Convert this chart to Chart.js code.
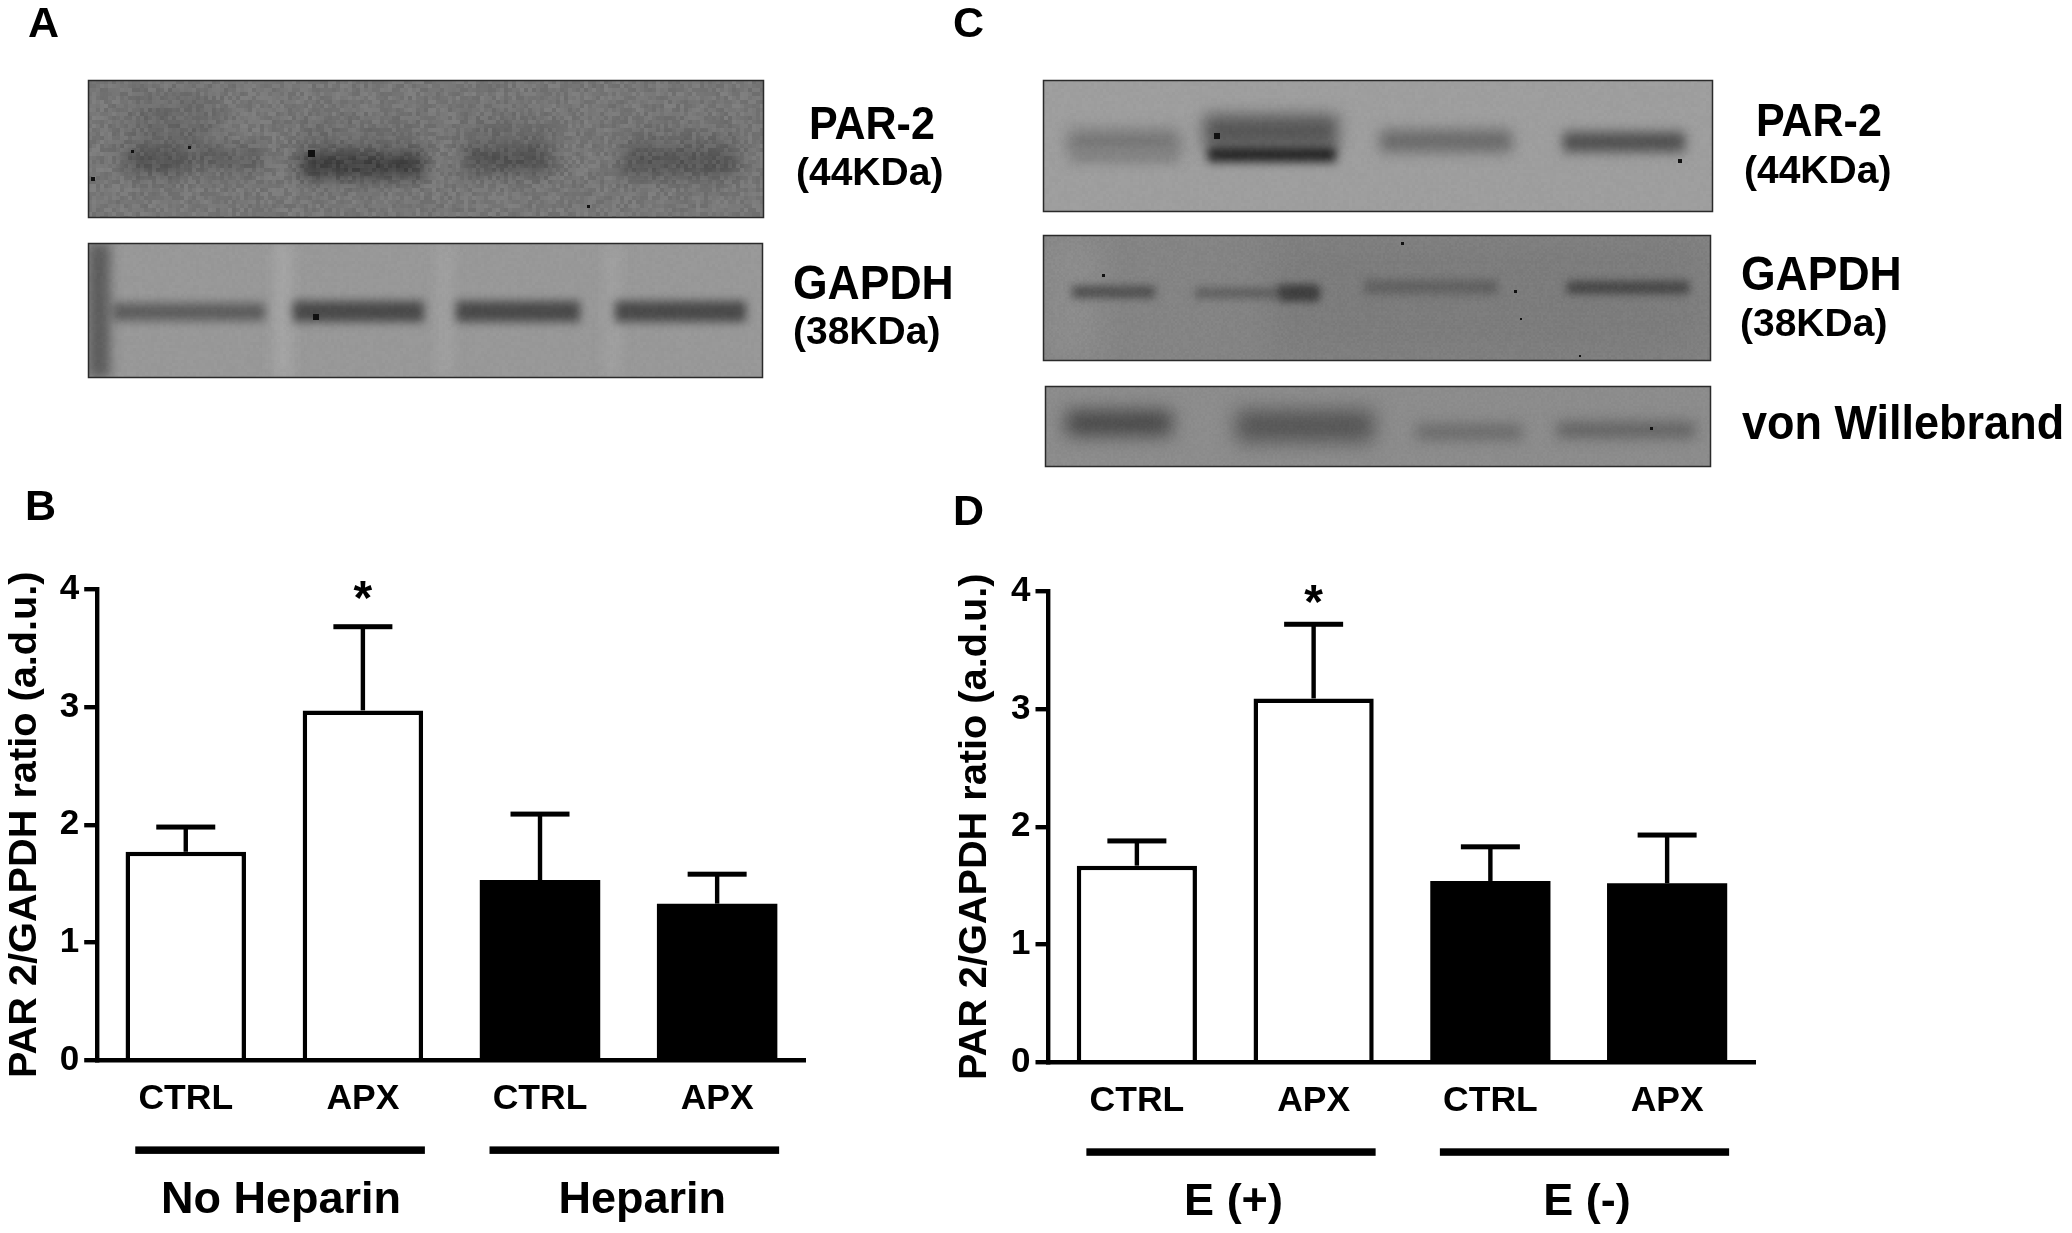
<!DOCTYPE html>
<html>
<head>
<meta charset="utf-8">
<title>PAR-2 western blots</title>
<script src="https://cdn.jsdelivr.net/npm/chart.js@4"></script>
<style>
  html, body { margin: 0; padding: 0; background: #fff; }
  #page { position: relative; width: 2072px; height: 1233px; overflow: hidden; font-family: "Liberation Sans", Arial, sans-serif; }
  #page canvas { position: absolute; }
  .lbl { position: absolute; font-weight: bold; line-height: 1; white-space: nowrap; color: #000; }
  .tall { transform: scaleY(1.07); }
</style>
</head>
<body>
<div id="page">
  <canvas id="blots" width="2072" height="560" style="left:0;top:0"></canvas>
  <canvas id="chartB" width="860" height="673" style="left:0;top:560px"></canvas>
  <canvas id="chartD" width="860" height="673" style="left:950px;top:560px"></canvas>

  <!-- panel letters -->
  <div class="lbl" style="left:28px;top:1px;font-size:43px">A</div>
  <div class="lbl" style="left:25px;top:484px;font-size:43px">B</div>
  <div class="lbl" style="left:953px;top:1px;font-size:43px">C</div>
  <div class="lbl" style="left:953px;top:489px;font-size:43px">D</div>

  <!-- blot labels -->
  <div class="lbl tall" style="left:809px;top:102px;font-size:43px">PAR-2</div>
  <div class="lbl" style="left:796px;top:152px;font-size:39px">(44KDa)</div>
  <div class="lbl tall" style="left:793px;top:261px;font-size:44.5px">GAPDH</div>
  <div class="lbl" style="left:793px;top:311px;font-size:39px">(38KDa)</div>
  <div class="lbl tall" style="left:1756px;top:99px;font-size:43px">PAR-2</div>
  <div class="lbl" style="left:1744px;top:150px;font-size:39px">(44KDa)</div>
  <div class="lbl tall" style="left:1741px;top:252px;font-size:44.5px">GAPDH</div>
  <div class="lbl" style="left:1740px;top:303px;font-size:39px">(38KDa)</div>
  <div class="lbl tall" style="left:1742px;top:400px;font-size:45px">von Willebrand</div>
</div>

<script>
// values
const categories = ['CTRL', 'APX', 'CTRL', 'APX'];
const yTicks = [0, 1, 2, 3, 4];
const yTitle = 'PAR 2/GAPDH ratio (a.d.u.)';
const barColors = ['#ffffff', '#ffffff', '#000000', '#000000'];
const stars = ['', '*', '', ''];

const meanB = [1.77, 2.97, 1.53, 1.33];
const upperB = [1.98, 3.68, 2.09, 1.58];
const groupsB = ['No Heparin', 'Heparin'];

const meanD = [1.67, 3.09, 1.54, 1.52];
const upperD = [1.88, 3.72, 1.83, 1.93];
const groupsD = ['E (+)', 'E (-)'];

// error bars, asterisks and the group rulers under the axis
const panelMarks = {
  id: 'panelMarks',
  afterDraw(chart, args, opts) {
    const { ctx, scales: { x, y } } = chart;
    ctx.save();
    ctx.fillStyle = '#000';
    opts.upper.forEach((v, i) => {
      const cx = x.getPixelForValue(i);
      const top = y.getPixelForValue(v);
      const base = y.getPixelForValue(opts.mean[i]);
      ctx.fillRect(cx - 2.2, top, 4.4, base - top);
      ctx.fillRect(cx - 29.5, top - 2.5, 59, 5);
      if (stars[i]) {
        ctx.font = 'bold 48px "Liberation Sans"';
        ctx.textAlign = 'center';
        ctx.textBaseline = 'middle';
        ctx.fillText(stars[i], cx, top - opts.starGap);
      }
    });
    opts.groups.forEach((name, g) => {
      const left = x.getPixelForValue(g * 2) - 50.5;
      const right = x.getPixelForValue(g * 2 + 1) + 62;
      const rulerY = y.getPixelForValue(0) + 86;
      ctx.fillRect(left, rulerY, right - left, 7.5);
      ctx.font = 'bold 45px "Liberation Sans"';
      ctx.textAlign = 'center';
      ctx.textBaseline = 'middle';
      ctx.fillText(name, (left + right) / 2 + opts.labelShift[g], rulerY + 54);
    });
    ctx.restore();
  }
};

function makeChart(id, mean, upper, groups, labelShift, starGap, plotLeft, plotWidth, plotTop, plotBottom) {
  const outline = { top: 4.5, left: 4.5, right: 4.5, bottom: 0 };
  return new Chart(document.getElementById(id), {
    type: 'bar',
    data: {
      labels: categories,
      datasets: [{
        data: mean,
        backgroundColor: barColors,
        borderColor: '#000',
        // solid bars need no outline, it only leaves a seam
        borderWidth: [outline, outline, 0, 0],
        categoryPercentage: 1,
        barPercentage: 0.68
      }]
    },
    plugins: [panelMarks],
    options: {
      responsive: false,
      animation: false,
      layout: { padding: { top: plotTop, right: 860 - plotLeft - plotWidth, bottom: 0, left: 0 } },
      plugins: {
        legend: { display: false },
        tooltip: { enabled: false },
        panelMarks: { mean, upper, groups, labelShift, starGap }
      },
      scales: {
        x: {
          afterFit(s) { s.height = plotBottom; s.paddingLeft = 0; s.paddingRight = 0; },
          border: { color: '#000', width: 4.4, z: 2 },
          grid: { drawTicks: false, drawOnChartArea: false },
          ticks: { color: '#000', font: { family: '"Liberation Sans"', size: 35.5, weight: 'bold' }, padding: 18, autoSkip: false, maxRotation: 0 }
        },
        y: {
          min: 0,
          max: 4,
          afterFit(s) { s.width = plotLeft; s.paddingTop = 0; s.paddingBottom = 0; },
          afterBuildTicks(s) { s.ticks = yTicks.map(v => ({ value: v })); },
          border: { color: '#000', width: 4.4, z: 2 },
          grid: { drawOnChartArea: false, tickLength: 13, lineWidth: 4.4, tickColor: '#000' },
          ticks: { color: '#000', font: { family: '"Liberation Sans"', size: 35, weight: 'bold' }, padding: 5 },
          title: { display: true, text: yTitle, color: '#000', font: { family: '"Liberation Sans"', size: 39.7, weight: 'bold', lineHeight: 1.25 }, padding: 0 }
        }
      }
    }
  });
}

makeChart('chartB', meanB, upperB, groupsB, [1, 8], 25.6, 97.2, 708.5, 29, 172.6);
makeChart('chartD', meanD, upperD, groupsD, [2.5, 2.5], 20, 98.5, 707, 31.3, 170.7);

// ---- blot photographs, painted as plain canvas ----
const blotCtx = document.getElementById('blots').getContext('2d');

function blot(x, y, w, h, base, strips, grain, grainSize, specks) {
  const c = blotCtx;
  c.save();
  c.beginPath();
  c.rect(x, y, w, h);
  c.clip();
  c.fillStyle = base;
  c.fillRect(x, y, w, h);
  strips.forEach(s => {
    c.filter = 'blur(' + s[5] + 'px)';
    c.fillStyle = s[4];
    c.fillRect(s[0], s[1], s[2] - s[0], s[3] - s[1]);
  });
  c.filter = 'none';
  // film grain with a fixed sequence so every render is the same
  const img = c.getImageData(x, y, w, h);
  let seed = x * 31 + y * 17 + 7;
  const next = () => { seed = (seed * 1103515245 + 12345) & 0x7fffffff; return seed / 0x7fffffff; };
  const row = [];
  for (let j = 0; j < h; j += grainSize) {
    for (let i = 0; i < w; i += grainSize) row.push((next() - 0.5) * grain);
  }
  const cols = Math.ceil(w / grainSize);
  for (let j = 0; j < h; j++) {
    for (let i = 0; i < w; i++) {
      const n = row[Math.floor(j / grainSize) * cols + Math.floor(i / grainSize)];
      const p = (j * w + i) * 4;
      img.data[p] += n; img.data[p + 1] += n; img.data[p + 2] += n;
    }
  }
  c.putImageData(img, x, y);
  c.filter = 'blur(0.7px)';
  c.fillStyle = '#111';
  specks.forEach(s => c.fillRect(s[0], s[1], s[2], s[2]));
  c.filter = 'none';
  c.restore();
  c.strokeStyle = '#2a2a2a';
  c.lineWidth = 1.5;
  c.strokeRect(x + 0.5, y + 0.5, w - 1, h - 1);
}

// A, PAR-2
blot(88, 80, 676, 138, '#777777', [
  [128, 100, 215, 150, '#686868', 14],
  [125, 150, 190, 172, '#505050', 9],
  [190, 150, 262, 168, '#5a5a5a', 9],
  [300, 125, 420, 150, '#6a6a6a', 12],
  [300, 152, 425, 178, '#3f3f3f', 8],
  [465, 120, 550, 145, '#6a6a6a', 12],
  [465, 145, 552, 173, '#525252', 9],
  [625, 130, 735, 150, '#6a6a6a', 12],
  [622, 148, 738, 176, '#555555', 9]
], 20, 4, [[308, 150, 7], [91, 177, 4], [131, 150, 3], [188, 146, 3], [587, 205, 3]]);

// A, GAPDH
blot(88, 243, 675, 135, '#989898', [
  [88, 243, 110, 378, '#5c5c5c', 6],
  [274, 243, 292, 378, '#a6a6a6', 7],
  [438, 243, 452, 378, '#a2a2a2', 7],
  [606, 243, 620, 378, '#a2a2a2', 7],
  [112, 303, 265, 321, '#5e5e5e', 5],
  [293, 301, 424, 322, '#4a4a4a', 5],
  [456, 301, 580, 322, '#4a4a4a', 5],
  [615, 301, 746, 322, '#4a4a4a', 5]
], 4, 3, [[313, 314, 6]]);

// C, PAR-2
blot(1043, 80, 670, 132, '#9e9e9e', [
  [1068, 130, 1180, 154, '#747474', 8],
  [1072, 150, 1178, 162, '#808080', 6],
  [1204, 115, 1338, 148, '#565656', 8],
  [1208, 147, 1336, 162, '#242424', 5],
  [1380, 130, 1512, 152, '#6a6a6a', 7],
  [1563, 132, 1685, 152, '#505050', 6]
], 4, 3, [[1214, 133, 6], [1678, 159, 4]]);

// C, GAPDH
blot(1043, 235, 668, 126, '#848484', [
  [1043, 235, 1100, 361, '#8c8c8c', 14],
  [1270, 235, 1711, 361, '#7c7c7c', 20],
  [1072, 286, 1155, 298, '#4e4e4e', 4],
  [1195, 288, 1319, 298, '#5c5c5c', 4],
  [1279, 285, 1319, 301, '#3e3e3e', 4],
  [1364, 280, 1498, 294, '#606060', 5],
  [1567, 281, 1689, 294, '#464646', 4]
], 6, 2, [[1102, 274, 3], [1401, 242, 3], [1514, 290, 3], [1520, 318, 2], [1579, 355, 2]]);

// C, von Willebrand
blot(1045, 386, 666, 81, '#8c8c8c', [
  [1066, 410, 1172, 436, '#484848', 9],
  [1236, 410, 1374, 442, '#545454', 10],
  [1416, 424, 1522, 440, '#6a6a6a', 7],
  [1557, 422, 1695, 438, '#626262', 7]
], 5, 2, [[1650, 427, 3]]);
</script>
</body>
</html>
